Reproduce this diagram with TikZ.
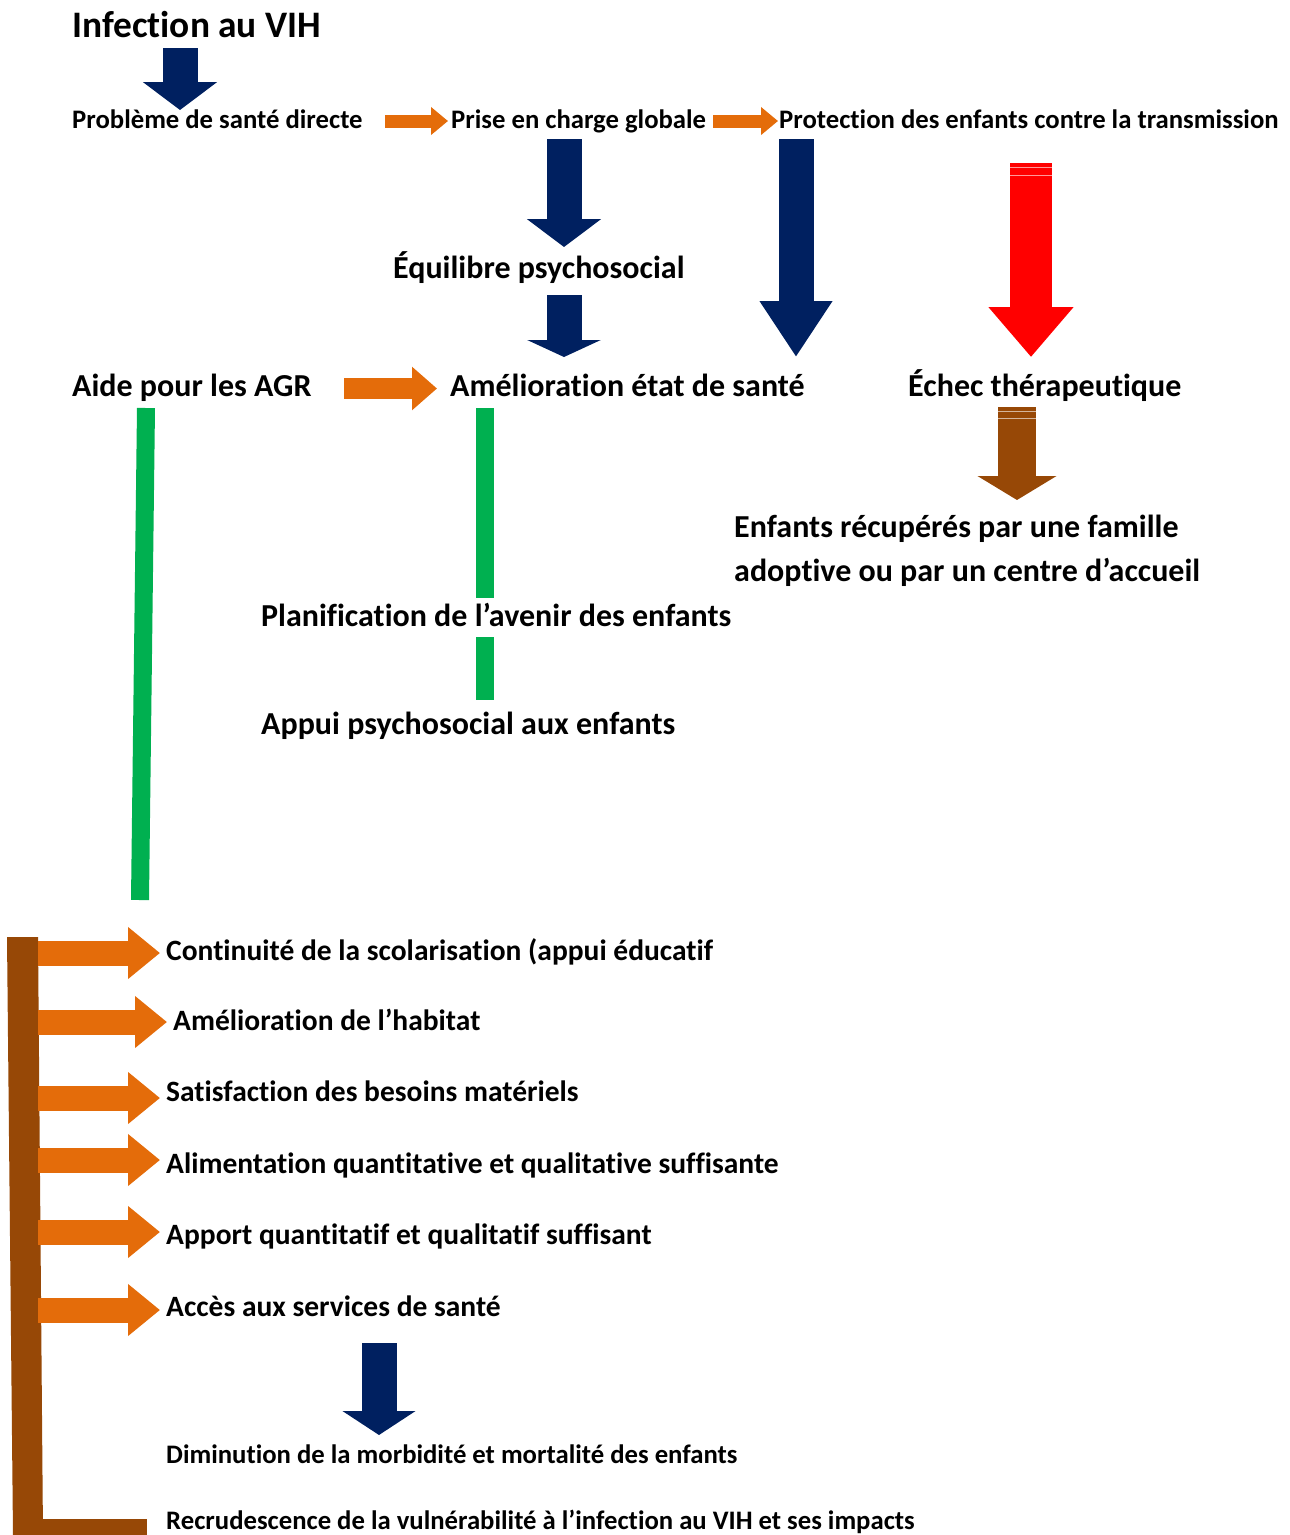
\documentclass[tikz,border=0pt]{standalone}
\usepackage{fontspec}
\setmainfont{Carlito}[Ligatures=CommonOff]
\usepackage{tikz}
\usetikzlibrary{arrows.meta,positioning,calc}

\definecolor{navy}{HTML}{002060}
\definecolor{orangeA}{HTML}{E46C0A}
\definecolor{greenA}{HTML}{00B050}
\definecolor{brownA}{HTML}{974806}

\tikzset{
    txt/.style={anchor=base west, inner sep=0pt, font=\bfseries\fontsize{#1}{#1}\selectfont},
    txt/.default=26.7,
    navyarrow/.style={draw=navy, line width=35pt, -{Triangle[width=73pt,length=28pt]}},
    smallor/.style={draw=orangeA, line width=13pt, -{Triangle[width=27pt,length=17pt]}},
    midor/.style={draw=orangeA, line width=21pt, -{Triangle[width=42pt,length=25pt]}},
    listor/.style={draw=orangeA, line width=25pt, -{Triangle[width=50pt,length=32pt]}},
    greenbar/.style={draw=greenA, line width=18pt},
    splitline/.style={draw=white, opacity=0.6, line width=0.8pt}
}

\begin{document}
\begin{tikzpicture}[x=1pt,y=-1pt]
    \useasboundingbox (0,0) rectangle (1290,1535);

    \node[txt=37.4] (vih) at (72,37) {Infection au VIH};
    \node[txt] (pb) at (72,128) {Problème de santé directe};
    \node[txt] (pec) at (451,128) {Prise en charge globale};
    \node[txt] (prot) at (779,128) {Protection des enfants contre la transmission};
    \node[txt=32] (equi) at (393,278) {Équilibre psychosocial};
    \node[txt=32] (agr) at (72,396) {Aide pour les AGR};
    \node[txt=32] (amel) at (450,396) {Amélioration état de santé};
    \node[txt=32] (echec) at (908,396) {Échec thérapeutique};
    \node[txt=32] (recup) at (734,537) {Enfants récupérés par une famille};
    \node[txt=32] (recup2) at (734,581) {adoptive ou par un centre d’accueil};
    \node[txt=32] (plan) at (261,626) {Planification de l’avenir des enfants};
    \node[txt=32] (appui) at (261,734) {Appui psychosocial aux enfants};

    \foreach \n/\x/\y/\t in {l1/166/960/{Continuité de la scolarisation (appui éducatif},
                             l2/173/1030/{Amélioration de l’habitat},
                             l3/166/1101/{Satisfaction des besoins matériels},
                             l4/166/1173/{Alimentation quantitative et qualitative suffisante},
                             l5/166/1244/{Apport quantitatif et qualitatif suffisant},
                             l6/166/1316/{Accès aux services de santé}}
        \node[txt=29.5] (\n) at (\x,\y) {\t};
    \node[txt] (dimi) at (166,1463) {Diminution de la morbidité et mortalité des enfants};
    \node[txt] (recru) at (166,1529) {Recrudescence de la vulnérabilité à l’infection au VIH et ses impacts};

    % top row
    \coordinate (s1) at (180,48);   \coordinate (e1) at (180,110);
    \coordinate (s2) at (564,139);  \coordinate (e2) at (564,247);
    \coordinate (s3) at (796,139);  \coordinate (e3) at (796,357);
    \coordinate (s4) at (564,295);  \coordinate (e4) at (564,357);
    \coordinate (s5) at (379,1343); \coordinate (e5) at (379,1435);
    \draw[navyarrow] (s1) -- (e1);
    \draw[navyarrow] (s2) -- (e2);
    \draw[navyarrow, -{Triangle[width=69pt,length=56pt]}] (s3) -- (e3);
    \draw[navyarrow, -{Triangle[width=73pt,length=17pt]}] (s4) -- (e4);
    \draw[navyarrow, -{Triangle[width=72pt,length=24pt]}] (s5) -- (e5);

    \coordinate (o1) at (385,121);
    \coordinate (o2) at (713,121);
    \coordinate (o3) at (344,388.5);
    \draw[smallor] (o1) -- ([xshift=-3pt]pec.west |- o1);
    \draw[smallor] (o2) -- ([xshift=-1pt]prot.west |- o2);
    \draw[midor] (o3) -- ([xshift=-13pt]amel.west |- o3);

    % red and brown arrows
    \coordinate (r1) at (1031,163); \coordinate (r2) at (1031,357);
    \draw[draw=red, line width=42pt, -{Triangle[width=82pt,length=50pt]}] (r1) -- (r2);
    \draw[splitline] (1010,167) -- (1052,167) (1010,175) -- (1052,175);
    \coordinate (b1) at (1017,407); \coordinate (b2) at (1017,500);
    \draw[draw=brownA, line width=38pt, -{Triangle[width=78pt,length=24pt]}] (b1) -- (b2);
    \draw[splitline] (998,411) -- (1036,411) (998,418) -- (1036,418);

    % green bars
    \draw[greenbar] (146,408) -- (140,900);
    \draw[greenbar] (485,408) -- (485,598);
    \draw[greenbar] (485,637) -- (485,700);

    % brown bracket
    \fill[brownA] (7,937) -- (38,937) -- (43,1535) -- (13,1535) -- cycle;
    \fill[brownA] (40,1519) rectangle (147,1535);

    \foreach \n/\y in {l1/953, l2/1022, l3/1098, l4/1160, l5/1232, l6/1310}
        \draw[listor] (38,\y) -- ($(\n.west |- 0,\y)+(-6,0)$);
\end{tikzpicture}
\end{document}
